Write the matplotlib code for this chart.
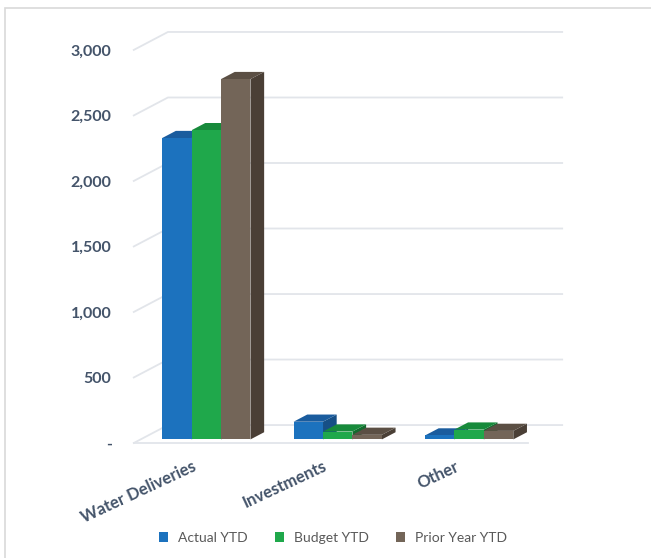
import matplotlib
matplotlib.use("Agg")
import matplotlib.pyplot as plt
from matplotlib.patches import Polygon, Patch, Rectangle
from matplotlib.ticker import FuncFormatter
from matplotlib.transforms import ScaledTranslation

categories = ["Water Deliveries", "Investments", "Other"]
series_names = ["Actual YTD", "Budget YTD", "Prior Year YTD"]
actual_ytd = [2300, 135, 30]
budget_ytd = [2360, 60, 75]
prior_ytd = [2750, 35, 65]
y_ticks = [0, 500, 1000, 1500, 2000, 2500, 3000]

series = [actual_ytd, budget_ytd, prior_ytd]
# front, top, side shades for each series
shades = [
    ("#1c72be", "#1a5c9e", "#164f86"),
    ("#1fa84b", "#178a3b", "#126b2e"),
    ("#736558", "#5b4f44", "#4a3f36"),
]

# depth of the whole chart in data units (x, y)
DX, DY = 0.26, 137.0
BAR_W = 0.224
T0, T1 = 0.2, 0.6   # bar front/back depth fractions

plt.rcParams["font.family"] = ["Lato", "DejaVu Sans"]
fig = plt.figure(figsize=(6.51, 5.58), dpi=100)
ax = fig.add_axes([0.2055, 0.2061, 0.6623, 0.7366])
ax.set_xlim(-0.5, 2.5 + 0.281)
ax.set_ylim(0, 3000 + DY)
for s in ax.spines.values():
    s.set_visible(False)

grid_c = "#e2e5ea"
# wall gridlines: slant from front plane to back wall, then across
for v in y_ticks:
    ax.plot([-0.5, -0.5 + DX, 2.5 + DX], [v, v + DY, v + DY],
            color=grid_c, lw=1.3, zorder=1, clip_on=False)
# floor front edge
ax.plot([-0.5, 2.5], [0, 0], color=grid_c, lw=1.3, zorder=1, clip_on=False)

def dep(x, y, t):
    return (x + DX * t, y + DY * t)

for i, cat in enumerate(categories):
    for k, vals in enumerate(series):
        v = vals[i]
        front, top, side = shades[k]
        x0 = i + (k - 1.5) * BAR_W
        x1 = x0 + BAR_W
        fx, fy = dep(0, 0, T0)
        z = 3 + i * 3 + k
        # side face
        p = [dep(x1, 0, T0), dep(x1, 0, T1), dep(x1, v, T1), dep(x1, v, T0)]
        ax.add_patch(Polygon(p, closed=True, fc=side, ec="none", zorder=z))
        # top face
        p = [dep(x0, v, T0), dep(x1, v, T0), dep(x1, v, T1), dep(x0, v, T1)]
        ax.add_patch(Polygon(p, closed=True, fc=top, ec="none", zorder=z))
        # front face
        ax.bar(x0 + fx, v, width=BAR_W, bottom=fy, align="edge",
               color=front, lw=0, zorder=z)

ax.set_yticks(y_ticks)
ax.yaxis.set_major_formatter(FuncFormatter(lambda v, p: "-" if v == 0 else f"{v:,.0f}"))
ax.tick_params(axis="y", length=0, pad=16, labelsize=11.5, labelcolor="#44546a")
for lab in ax.get_yticklabels():
    lab.set_fontweight("bold")

ax.set_xticks(range(len(categories)))
ax.set_xticklabels(categories, rotation=25, ha="right", rotation_mode="anchor",
                   fontsize=12, fontweight="bold", color="#44546a")
ax.tick_params(axis="x", length=0, pad=11)
shift = ScaledTranslation(-8 / 100, 0, fig.dpi_scale_trans)
for lab in ax.get_xticklabels():
    lab.set_transform(lab.get_transform() + shift)

handles = [Patch(fc=shades[k][0], ec="none", label=series_names[k]) for k in range(3)]
fig.legend(handles=handles, loc="center", bbox_to_anchor=(333 / 651, 1 - 538 / 558),
           ncol=3, frameon=False, fontsize=10, labelcolor="#595959",
           handlelength=0.65, handleheight=0.65, handletextpad=0.7, columnspacing=2.0)

# chart area outline
fig.add_artist(Rectangle((5 / 651, -0.05), 1.2, 1 - 8 / 558 + 0.05,
                         transform=fig.transFigure, fill=False, ec="#d9d9d9", lw=1.2))

fig.savefig("out.png", dpi=100)
